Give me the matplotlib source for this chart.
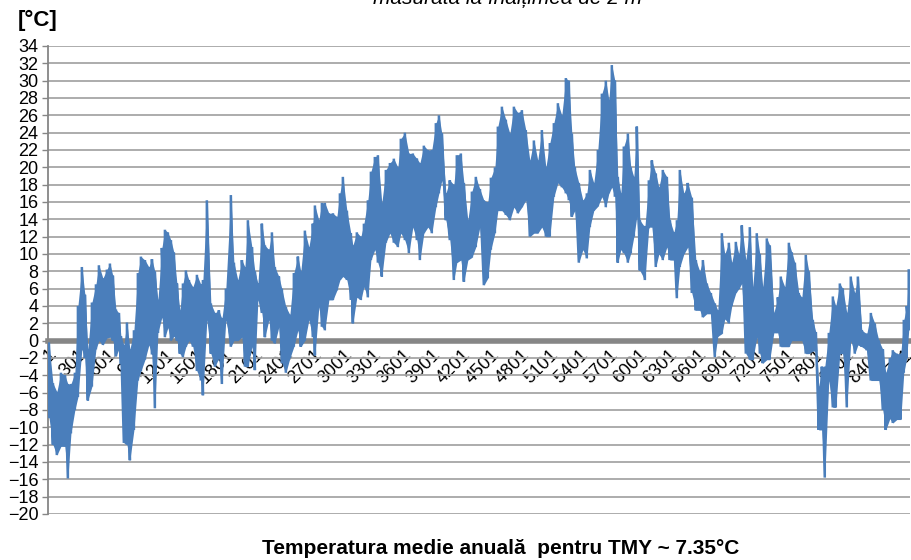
import numpy as np
import matplotlib
matplotlib.use("Agg")
from matplotlib import pyplot as plt

plt.rcParams['font.family'] = ['Liberation Sans', 'DejaVu Sans']

# hour of year (column centre) and the low / high of the hourly trace around it,
# read off the reference picture
hours = [10, 51, 91, 132, 173, 203, 234, 274, 305, 345, 376, 406, 447, 488, 518,
         559, 599, 630, 660, 691, 721, 742, 772, 803, 833, 874, 914, 945, 986,
         1026, 1057, 1087, 1118, 1158, 1189, 1219, 1250, 1280, 1311, 1341, 1372,
         1402, 1433, 1473, 1514, 1554, 1575, 1615, 1656, 1697, 1737, 1768, 1808,
         1859, 1890, 1930, 1971, 2002, 2032, 2073, 2103, 2134, 2174, 2205, 2245,
         2276, 2306, 2347, 2377, 2418, 2459, 2499, 2540, 2570, 2611, 2652, 2692,
         2713, 2753, 2784, 2814, 2855, 2896, 2936, 2967, 2997, 3038, 3078, 3099,
         3139, 3180, 3211, 3251, 3282, 3322, 3353, 3393, 3434, 3475, 3515, 3556,
         3586, 3627, 3668, 3708, 3749, 3780, 3820, 3861, 3901, 3942, 3973, 4003,
         4044, 4084, 4125, 4155, 4196, 4227, 4267, 4308, 4348, 4389, 4430, 4470,
         4501, 4542, 4572, 4613, 4653, 4694, 4735, 4775, 4816, 4856, 4897, 4938,
         4978, 5019, 5060, 5100, 5141, 5182, 5222, 5263, 5293, 5324, 5354, 5395,
         5436, 5476, 5507, 5547, 5588, 5629, 5669, 5700, 5730, 5761, 5791, 5822,
         5852, 5893, 5923, 5954, 5984, 6015, 6066, 6106, 6137, 6177, 6208, 6248,
         6289, 6320, 6360, 6391, 6421, 6462, 6502, 6543, 6584, 6624, 6655, 6695,
         6736, 6777, 6807, 6848, 6878, 6919, 6949, 6990, 7021, 7051, 7092, 7132,
         7163, 7203, 7234, 7264, 7305, 7335, 7376, 7417, 7447, 7488, 7529, 7559,
         7590, 7630, 7661, 7701, 7732, 7772, 7803, 7833, 7864, 7894, 7935, 7976,
         8006, 8047, 8077, 8118, 8158, 8199, 8230, 8270, 8321, 8362, 8402, 8443,
         8484, 8514, 8555, 8585, 8626, 8666, 8697, 8727, 8747]

lows = [-8.8, -12.0, -13.2, -12.2, -12.2, -15.9, -10.7, -8.0, -6.5, -1.0, -2.0,
        -6.9, -5.3, -1.0, 0.0, -0.5, 0.3, 0.4, 0.0, -1.8, -1.0,
        -2.7, -11.8, -12.0, -13.8, -10.3, -4.6, -3.5, -2.2, -0.5, -1.6, -7.8,
        0.9, 2.7, 0.4, 1.5, 0.0, 0.5, 0.0, -1.5, -1.9, -0.7,
        0.0, -0.7, -3.5, -4.6, -6.3, 2.4, -1.5, -3.0, -2.0, -5.0, 2.4,
        -0.7, 0.0, 0.0, 0.4, -3.0, -3.0, -0.7, -3.4, 4.7, 3.2, 0.4, 2.4,
        0.0, -0.3, 1.6, -2.6, -3.7, -2.0, -0.7, 1.2, -0.7, 0.0, 2.4, 0.4,
        -1.7, 3.9, 1.6, 1.2, 4.7, 4.7, 5.8, 7.0, 7.4, 7.0, 4.7, 2.0,
        5.0, 4.7, 6.2, 5.0, 9.3, 10.5, 9.0, 7.4, 11.3, 12.4, 11.3, 10.8,
        12.4, 11.6, 10.1, 13.1, 11.6, 9.3, 12.4, 13.1, 12.4, 15.4, 17.0, 18.5,
        13.9, 11.6, 7.0, 9.0, 9.3, 6.8, 9.3, 9.6, 10.8, 13.1, 6.4, 7.2,
        10.5, 12.4, 15.0, 15.0, 14.5, 13.9, 15.4, 14.7, 15.4, 16.2, 12.0, 12.4,
        12.4, 13.1, 12.0, 12.0, 16.6, 18.2, 17.7, 17.0, 16.2, 14.3, 15.0, 9.0,
        10.5, 9.5, 13.1, 15.0, 15.5, 16.6, 15.4, 17.0, 17.7, 16.6, 9.0, 10.5,
        10.1, 9.0, 10.1, 12.0, 14.3, 8.1, 7.0, 13.1, 13.1, 8.5, 10.0, 9.3,
        10.8, 9.3, 9.3, 4.9, 8.5, 10.0, 10.8, 5.5, 3.5, 3.5, 2.7, 3.1,
        3.1, -1.9, 0.5, 0.8, 2.5, 2.0, 4.0, 5.5, 6.0, 6.6, -1.5, -2.2,
        -2.2, 0.4, -1.5, -2.6, -2.2, -2.2, 0.9, 0.9, -0.7, -0.7, -0.7, 0.0,
        0.0, 0.0, 0.0, -1.5, -1.5, -1.2, -1.2, -10.3, -10.3, -15.8, -4.6, -7.7,
        -7.7, -1.5, -1.5, -7.7, 0.0, -1.5, -0.5, -0.7, -1.1, -4.6, -4.6, -4.6,
        -8.0, -10.3, -9.0, -9.5, -9.1, -9.1, -3.7, -2.0, 1.2]

highs = [-0.2, -4.9, -5.9, -3.7, -4.0, -5.0, -5.0, -3.7, 4.0, 8.5, 5.3,
         -1.0, 4.4, 6.5, 8.7, 7.2, 8.2, 8.9, 7.5, 3.6, 3.2,
         0.5, -0.5, 2.1, -1.0, 1.2, 7.8, 9.7, 9.3, 8.5, 9.4, 8.0,
         4.7, 10.7, 12.8, 12.5, 11.6, 10.2, 6.6, 3.5, 6.6, 8.1,
         7.0, 6.2, 7.6, 6.5, 7.0, 16.2, 4.3, 3.2, 3.5, 2.5, 6.0,
         16.8, 9.0, 7.0, 9.3, 8.5, 13.9, 10.8, 8.0, 6.6, 13.5, 11.0, 10.5,
         12.5, 8.5, 7.4, 6.0, 3.9, 3.0, 7.8, 9.7, 8.0, 12.7, 10.8, 13.5,
         15.6, 13.9, 15.9, 15.9, 14.7, 14.7, 14.3, 17.0, 18.9, 15.0, 12.4, 11.0,
         12.5, 12.0, 13.5, 16.2, 19.5, 21.2, 21.4, 15.9, 19.7, 20.5, 21.0, 20.0,
         23.3, 24.0, 21.6, 21.6, 21.0, 20.5, 22.5, 22.0, 22.0, 25.1, 26.0, 23.9,
         17.0, 18.5, 18.0, 21.4, 21.6, 18.2, 13.9, 17.2, 18.9, 17.5, 16.2, 16.0,
         18.8, 20.0, 24.7, 27.0, 25.5, 23.9, 27.0, 26.3, 26.6, 24.3, 20.8, 23.1,
         20.8, 24.3, 20.0, 22.8, 25.1, 27.4, 26.0, 30.3, 30.0, 23.9, 20.0, 18.2,
         16.2, 17.0, 19.7, 18.2, 22.0, 28.5, 30.0, 27.8, 31.8, 30.0, 18.9, 17.0,
         22.4, 23.9, 20.0, 18.9, 24.7, 13.9, 13.1, 18.5, 20.8, 19.3, 17.7, 19.7,
         18.9, 13.9, 12.5, 13.9, 19.7, 17.0, 18.2, 16.5, 9.3, 8.0, 9.3, 6.6,
         5.5, 4.3, 3.5, 12.4, 10.0, 11.3, 9.0, 11.4, 10.0, 13.3, 9.3, 13.1,
         6.2, 12.4, 10.0, 6.2, 11.8, 11.0, 3.2, 5.0, 7.4, 6.2, 11.3, 10.2,
         9.0, 5.5, 5.0, 9.9, 8.0, 2.4, 1.0, -5.3, -3.0, -3.0, 0.9, 5.1,
         4.0, 6.6, 6.0, 3.2, 7.4, 5.5, 7.4, 1.2, 0.8, 3.2, 2.0, 0.0,
         -1.0, -3.7, -2.0, -1.1, -1.5, -1.5, 2.4, 4.0, 8.1]

y_ticks = list(range(-20, 35, 2))
x_tick_hours = list(range(1, 8761, 300))
x_tick_labels = [str(h) for h in x_tick_hours]

title_top = "măsurată la înălțimea de 2 m"
title_bottom = "Temperatura medie anuală  pentru TMY ~ 7.35°C"
unit_label = "[°C]"

line_color = "#4a7ebb"
grid_color = "#a6a6a6"
axis_color = "#868686"

fig = plt.figure(figsize=(9.12, 5.6), dpi=100)
ax = fig.add_axes([48 / 912, 1 - 514 / 560, 862 / 912, 468 / 560])

# the hourly trace is so dense it fills its daily band; draw the band and the swings
ax.fill_between(hours, lows, highs, color=line_color, lw=0, zorder=3)
xs = np.repeat(hours, 2)
ys = np.column_stack([lows, highs]).ravel()
ax.plot(xs, ys, color=line_color, lw=1.8, solid_joinstyle='miter', zorder=3)

ax.set_xlim(1, 8760)
ax.set_ylim(-20, 34)
ax.set_yticks(y_ticks)
ax.yaxis.grid(True, color=grid_color, lw=1.3)
ax.set_axisbelow(True)

ax.spines['top'].set_visible(False)
ax.spines['right'].set_visible(False)
ax.spines['left'].set_color(axis_color)
ax.spines['left'].set_linewidth(1.3)
ax.spines['bottom'].set_position(('data', 0))
ax.spines['bottom'].set_color(axis_color)
ax.spines['bottom'].set_linewidth(4)
ax.spines['bottom'].set_zorder(2)

ax.tick_params(axis='y', length=4, width=1, color=axis_color, labelsize=13, pad=3)
ax.set_xticks(x_tick_hours)
ax.set_xticklabels(x_tick_labels, rotation=45, ha='right', va='top',
                   rotation_mode='anchor', fontsize=13)
ax.tick_params(axis='x', length=0, pad=4)

fig.text(18 / 912, 1 - 20 / 560, unit_label, fontsize=16, fontweight='bold',
         va='center', ha='left')
fig.text(508 / 912, 1 - 4 / 560, title_top, fontsize=15, style='italic',
         ha='center', va='baseline')
fig.text(501 / 912, 1 - 548 / 560, title_bottom, fontsize=15, fontweight='bold',
         ha='center', va='center')

fig.savefig("out.png", dpi=100)
